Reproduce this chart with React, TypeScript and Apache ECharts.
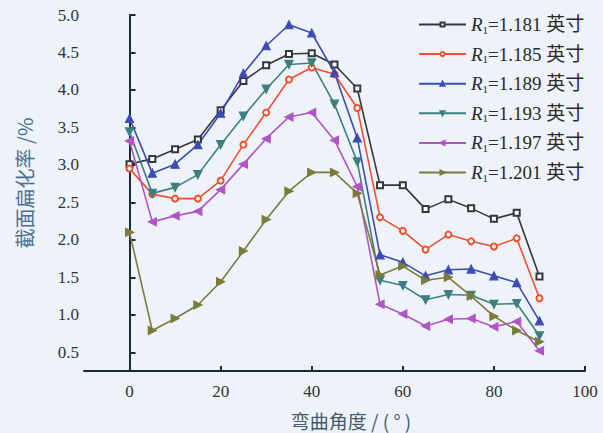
import React, { useEffect, useRef } from "react";
import * as echarts from "echarts";

const angles = [0, 5, 10, 15, 20, 25, 30, 35, 40, 45, 50, 55, 60, 65, 70, 75, 80, 85, 90];
const r1181 = [3.01, 3.08, 3.21, 3.34, 3.73, 4.12, 4.33, 4.48, 4.49, 4.34, 4.02, 2.73, 2.73, 2.41, 2.54, 2.42, 2.28, 2.36, 1.51];
const r1185 = [2.95, 2.61, 2.55, 2.55, 2.79, 3.27, 3.70, 4.14, 4.30, 4.21, 3.76, 2.30, 2.12, 1.87, 2.07, 1.98, 1.91, 2.02, 1.22];
const r1189 = [3.62, 2.89, 3.01, 3.27, 3.69, 4.22, 4.59, 4.87, 4.76, 4.23, 3.36, 1.80, 1.70, 1.52, 1.60, 1.61, 1.52, 1.43, 0.92];
const r1193 = [3.44, 2.62, 2.70, 2.87, 3.27, 3.65, 4.01, 4.34, 4.36, 3.81, 3.04, 1.46, 1.39, 1.20, 1.27, 1.26, 1.14, 1.15, 0.72];
const r1197 = [3.32, 2.24, 2.32, 2.38, 2.67, 3.01, 3.35, 3.64, 3.70, 3.33, 2.71, 1.14, 1.01, 0.85, 0.94, 0.95, 0.84, 0.91, 0.52];
const r1201 = [2.10, 0.79, 0.95, 1.13, 1.44, 1.85, 2.27, 2.65, 2.90, 2.90, 2.62, 1.53, 1.65, 1.46, 1.50, 1.25, 0.98, 0.79, 0.64];

const seriesNames = ["1.181", "1.185", "1.189", "1.193", "1.197", "1.201"];
const seriesValues = [r1181, r1185, r1189, r1193, r1197, r1201];
const colors = ["#34383c", "#f0502e", "#3c4cb2", "#3d7f80", "#b055c4", "#7b7b3c"];
const symbols = ["emptyRect", "emptyCircle", "triangle", "triangle", "triangle", "triangle"];
const rotations = [0, 0, 0, 180, 90, -90];

const yTicks = [0.5, 1.0, 1.5, 2.0, 2.5, 3.0, 3.5, 4.0, 4.5, 5.0];
const xTicks = [0, 20, 40, 60, 80, 100];

const SERIF = "'Liberation Serif', 'Noto Sans CJK SC', serif";
const CJK = "'Noto Sans CJK SC', sans-serif";

export default function App() {
  const ref = useRef<HTMLDivElement>(null);
  useEffect(() => {
    if (!ref.current) return;
    const chart = echarts.init(ref.current, undefined, { renderer: "svg" });
    const axisColor = "#1c2a38";
    const txt = "#2a2a2a";
    chart.setOption({
      animation: false,
      backgroundColor: "#edf3f8",
      grid: { left: 84, right: 18, top: 15, bottom: 62, containLabel: false },
      legend: {
        orient: "vertical",
        left: 413,
        top: 9,
        itemWidth: 47,
        itemHeight: 5,
        itemGap: 8.6,
        data: seriesNames.map((n) => "R1=" + n),
        formatter: (name: string) => "{i|R}{s|1}" + name.slice(2) + " 英寸",
        textStyle: {
          fontFamily: SERIF,
          fontSize: 19,
          color: txt,
          lineHeight: 21,
          rich: {
            i: { fontFamily: SERIF, fontStyle: "italic", fontSize: 19, color: txt, lineHeight: 21 },
            s: { fontFamily: SERIF, fontSize: 11, color: txt, lineHeight: 21, verticalAlign: "bottom", padding: [8, 0, 0, 0] },
          },
        },
      },
      xAxis: {
        type: "value",
        min: -10,
        max: 100,
        axisLine: { show: true, lineStyle: { color: axisColor, width: 2 } },
        axisTick: { show: true, inside: true, length: 5, customValues: xTicks, lineStyle: { color: axisColor, width: 2 } },
        axisLabel: { customValues: xTicks, fontFamily: SERIF, fontSize: 17, color: "#333", margin: 12 },
        splitLine: { show: false },
      },
      yAxis: {
        type: "value",
        min: 0.25,
        max: 5.0,
        axisLine: { show: true, lineStyle: { color: axisColor, width: 2 } },
        axisTick: { show: true, inside: true, length: 6, customValues: yTicks, lineStyle: { color: axisColor, width: 2 } },
        axisLabel: {
          customValues: yTicks,
          fontFamily: SERIF,
          fontSize: 17,
          color: "#333",
          margin: 5,
          formatter: (v: number) => v.toFixed(1),
        },
        splitLine: { show: false },
      },
      graphic: [
        {
          type: "text",
          x: 24,
          y: 183,
          rotation: Math.PI / 2,
          style: {
            text: "截面扁化率 /%",
            font: "20px " + CJK,
            fill: "#4f6f90",
            align: "center",
            verticalAlign: "middle",
          },
        },
        {
          type: "text",
          x: 351,
          y: 420,
          style: {
            text: "弯曲角度 / ( ° )",
            font: "19px " + CJK,
            fill: "#465a6e",
            align: "center",
            verticalAlign: "middle",
          },
        },
      ],
      series: seriesNames.map((n, i) => ({
        name: "R1=" + n,
        type: "line",
        data: angles.map((a, j) => [a, seriesValues[i][j]]),
        symbol: symbols[i],
        symbolSize: i < 2 ? 6 : 8,
        symbolRotate: rotations[i],
        showAllSymbol: true,
        color: colors[i],
        lineStyle: { color: colors[i], width: 1.6 },
        itemStyle: { color: colors[i], borderColor: colors[i], borderWidth: 1.2 },
      })),
    });
    return () => chart.dispose();
  }, []);
  return <div ref={ref} style={{ width: 603, height: 433, position: "absolute", left: 0, top: 0 }} />;
}
